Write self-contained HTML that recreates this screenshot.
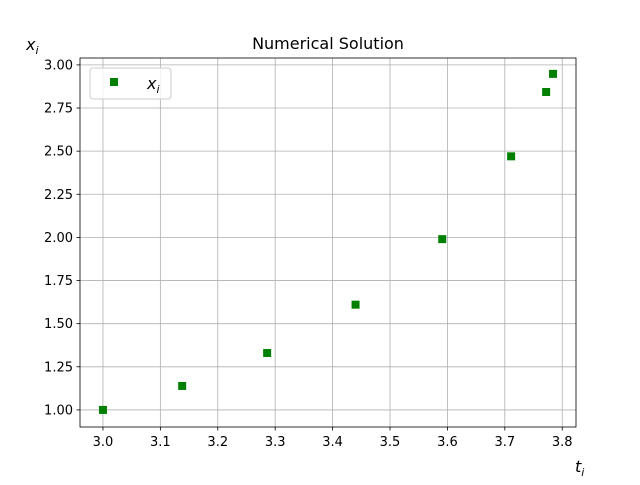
<!DOCTYPE html>
<html><head><meta charset="utf-8"><style>
body{margin:0;background:#fff;}
svg text{font-family:"DejaVu Sans","Liberation Sans",sans-serif;}
</style></head><body>
<svg id="chart" width="640" height="480" xmlns="http://www.w3.org/2000/svg">
<rect width="640" height="480" fill="#fff"/>
<g id="grid"></g><g id="ticks"></g><g id="marks"></g>
<rect x="80" y="58" width="496" height="369" fill="none" stroke="#000" stroke-width="0.8"/>
<text x="328" y="49" font-size="16" text-anchor="middle">Numerical Solution</text>
<text x="26" y="50" font-size="16" font-style="italic">x<tspan font-size="11" dy="4">i</tspan></text>
<text x="575" y="472" font-size="16" font-style="italic">t<tspan font-size="11" dy="4">i</tspan></text>
<g>
<rect x="90" y="68" width="81" height="31" rx="3" fill="#fff" fill-opacity="0.8" stroke="#ccc"/>
<rect x="110" y="78" width="8" height="8" fill="#008000"/>
<text x="147" y="89" font-size="16" font-style="italic">x<tspan font-size="11" dy="4">i</tspan></text>
</g>
</svg>
<script>
const tValues=[3.0,3.138,3.286,3.44,3.591,3.711,3.772,3.784];
const xValues=[1.0,1.139,1.33,1.61,1.99,2.47,2.843,2.948];
const xTicks=[3.0,3.1,3.2,3.3,3.4,3.5,3.6,3.7,3.8];
const yTicks=[1.0,1.25,1.5,1.75,2.0,2.25,2.5,2.75,3.0];
const L=80,R=576,T=58,B=427,x0=2.96,x1=3.824,y0=0.901,y1=3.04;
const sx=v=>L+(v-x0)/(x1-x0)*(R-L);
const sy=v=>B-(v-y0)/(y1-y0)*(B-T);
const NS="http://www.w3.org/2000/svg";
function mk(tag,attrs,parent){const e=document.createElementNS(NS,tag);for(const k in attrs)e.setAttribute(k,attrs[k]);document.getElementById(parent).appendChild(e);return e;}
xTicks.forEach(v=>{const x=sx(v);
const g=mk('line',{x1:x,x2:x,y1:T,y2:B,stroke:'#b0b0b0','stroke-width':0.8},'grid');


const t=mk('line',{x1:x,x2:x,y1:B,y2:B+3.5,stroke:'#000','stroke-width':0.8},'ticks');


const l=mk('text',{x:x,y:B+19,'font-size':13,'text-anchor':'middle'},'ticks');l.textContent=v.toFixed(1);

});
yTicks.forEach(v=>{const y=sy(v);
const g=mk('line',{x1:L,x2:R,y1:y,y2:y,stroke:'#b0b0b0','stroke-width':0.8},'grid');


const t=mk('line',{x1:L-3.5,x2:L,y1:y,y2:y,stroke:'#000','stroke-width':0.8},'ticks');


const l=mk('text',{x:L-7,y:y+4.5,'font-size':13,'text-anchor':'end'},'ticks');l.textContent=v.toFixed(2);

});
tValues.forEach((t,i)=>{const p=mk('rect',{x:sx(t)-4,y:sy(xValues[i])-4,width:8,height:8,fill:'#008000'},'marks');

});
</script>
</body></html>
